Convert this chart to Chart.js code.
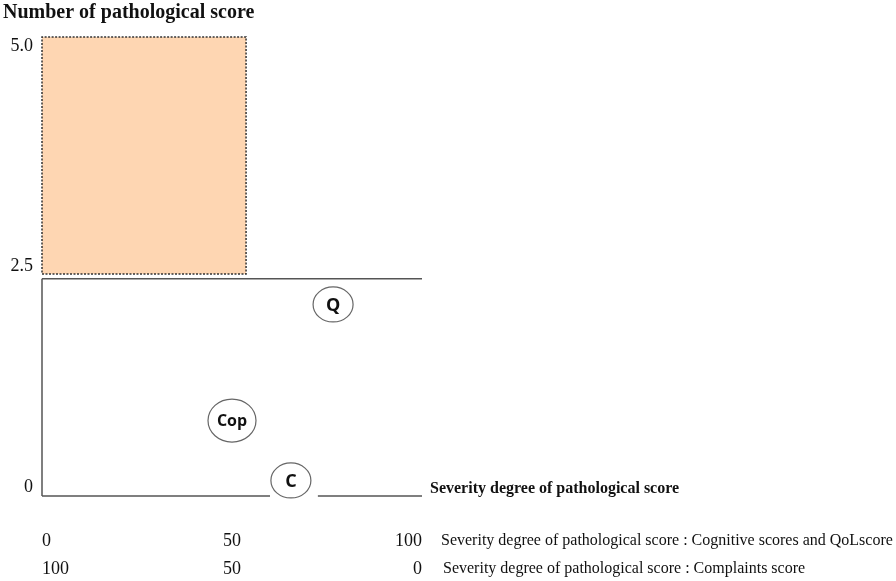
<!DOCTYPE html>
<html>
<head>
<meta charset="utf-8">
<script src="https://cdn.jsdelivr.net/npm/chart.js@4.4.1/dist/chart.umd.min.js"></script>
<style>
  html, body { margin: 0; padding: 0; background: #fff; }
  #wrap { width: 896px; height: 581px; position: relative; }
</style>
</head>
<body>
<div id="wrap"><canvas id="ChartCanvas"></canvas></div>
<script>
// values
const yTicks = [0, 2.5, 5.0];
const xTicks = [0, 50, 100];
const zoneX = [0, 53.7];          // shaded zone, x from..to
const zoneY = [2.415, 5.1];       // shaded zone, y from..to
const cutoffY = 2.36;             // horizontal cut-off line
const axisGapX = [60, 72.6];      // x axis is broken around "C"
const bubbleLabels = ['Q', 'Cop', 'C'];
const bubbleX = [76.6, 50.0, 65.5];
const bubbleY = [2.07, 0.755, 0.076];
const xTitle = 'Severity degree of pathological score';
const rowLabels = [
	'Severity degree of pathological score : Cognitive scores and QoLscore',
	'Severity degree of pathological score : Complaints score'
];

const serif = '"Liberation Serif", "Times New Roman", serif';
const lineCol = '#555';
const bubbleSize = { Q: [20, 17.5, 18], Cop: [24, 21.5, 16], C: [20, 17.5, 18] };

const yMin = -0.1;

const overlay = {
	id: 'overlay',
	afterDatasetsDraw(chart) {
		const ctx = chart.ctx;
		const xs = chart.scales.x, ys = chart.scales.y;
		ctx.save();
		// bubbles
		bubbleLabels.forEach(function (lab, i) {
			const px = xs.getPixelForValue(bubbleX[i]);
			const py = ys.getPixelForValue(bubbleY[i]);
			const s = bubbleSize[lab];
			ctx.beginPath();
			ctx.ellipse(px, py, s[0], s[1], 0, 0, Math.PI * 2);
			ctx.fillStyle = '#fff';
			ctx.fill();
			ctx.lineWidth = 1.2;
			ctx.strokeStyle = '#666';
			ctx.stroke();
			ctx.fillStyle = '#111';
			ctx.font = 'bold ' + s[2] + 'px "Open Sans", sans-serif';
			ctx.textAlign = 'center';
			ctx.textBaseline = 'middle';
			ctx.fillText(lab, px, py + 1);
		});
		// axis title on the right
		ctx.fillStyle = '#111';
		ctx.textAlign = 'left';
		ctx.textBaseline = 'middle';
		ctx.font = 'bold 16px ' + serif;
		ctx.fillText(xTitle, chart.chartArea.right + 8, ys.getPixelForValue(0) + 2);
		// row captions next to the tick rows
		ctx.font = '16px ' + serif;
		const x2 = chart.scales.x2;
		ctx.fillText(rowLabels[0], chart.chartArea.right + 19, xs.top + 34 + 11);
		ctx.fillText(rowLabels[1], chart.chartArea.right + 21, x2.top + 6 + 11);
		ctx.restore();
	}
};

function seg(points) {
	return {
		type: 'line',
		data: points,
		borderColor: lineCol,
		borderWidth: 1.5,
		pointRadius: 0,
		showLine: true,
		fill: false,
		clip: 4
	};
}

const datasets = [
	{
		type: 'line',
		data: [
			{ x: zoneX[0], y: zoneY[0] }, { x: zoneX[1], y: zoneY[0] },
			{ x: zoneX[1], y: zoneY[1] }, { x: zoneX[0], y: zoneY[1] },
			{ x: zoneX[0], y: zoneY[0] }
		],
		borderColor: '#333',
		borderWidth: 1.5,
		borderDash: [2, 1.5],
		backgroundColor: '#FED6B2',
		fill: 'shape',
		pointRadius: 0,
		tension: 0,
		clip: 4
	},
	seg([{ x: 0, y: cutoffY }, { x: 100, y: cutoffY }]),
	seg([{ x: 0, y: yMin }, { x: 0, y: cutoffY }]),
	seg([{ x: 0, y: yMin }, { x: axisGapX[0], y: yMin }]),
	seg([{ x: axisGapX[1], y: yMin }, { x: 100, y: yMin }])
];

const ctx = document.getElementById('ChartCanvas').getContext('2d');
const chart = new Chart(ctx, {
	type: 'scatter',
	data: { datasets: datasets },
	options: {
		responsive: true,
		maintainAspectRatio: false,
		animation: false,
		events: [],
		layout: { padding: { left: 3, right: 474, top: 0, bottom: 2 } },
		plugins: {
			legend: { display: false },
			tooltip: { enabled: false },
			title: {
				display: true,
				text: 'Number of pathological score',
				align: 'start',
				color: '#111',
				font: { family: serif, size: 20, weight: 'bold' },
				padding: { top: 1, bottom: 12 }
			}
		},
		scales: {
			x: {
				type: 'linear', min: 0, max: 100,
				afterBuildTicks: function (s) { s.ticks = xTicks.map(function (v) { return { value: v }; }); },
				afterFit: function (s) { s.height = 56; },
				grid: { display: false, drawTicks: false },
				border: { display: false },
				ticks: { align: 'inner', padding: 34, color: '#111', font: { family: serif, size: 18 } }
			},
			x2: {
				type: 'linear', position: 'bottom', min: 0, max: 100, reverse: true,
				afterBuildTicks: function (s) { s.ticks = xTicks.map(function (v) { return { value: v }; }); },
				afterFit: function (s) { s.height = 27; },
				grid: { display: false, drawTicks: false },
				border: { display: false },
				ticks: { align: 'inner', padding: 6, color: '#111', font: { family: serif, size: 18 } }
			},
			y: {
				type: 'linear', min: yMin, max: 5.1,
				afterBuildTicks: function (s) { s.ticks = yTicks.map(function (v) { return { value: v }; }); },
				afterFit: function (s) { s.width = 39; },
				grid: { display: false, drawTicks: false },
				border: { display: false },
				ticks: {
					padding: 9, color: '#111', font: { family: serif, size: 18 },
					callback: function (v) { return v === 0 ? '0' : v.toFixed(1); }
				}
			}
		}
	},
	plugins: [overlay]
});
</script>
</body>
</html>
